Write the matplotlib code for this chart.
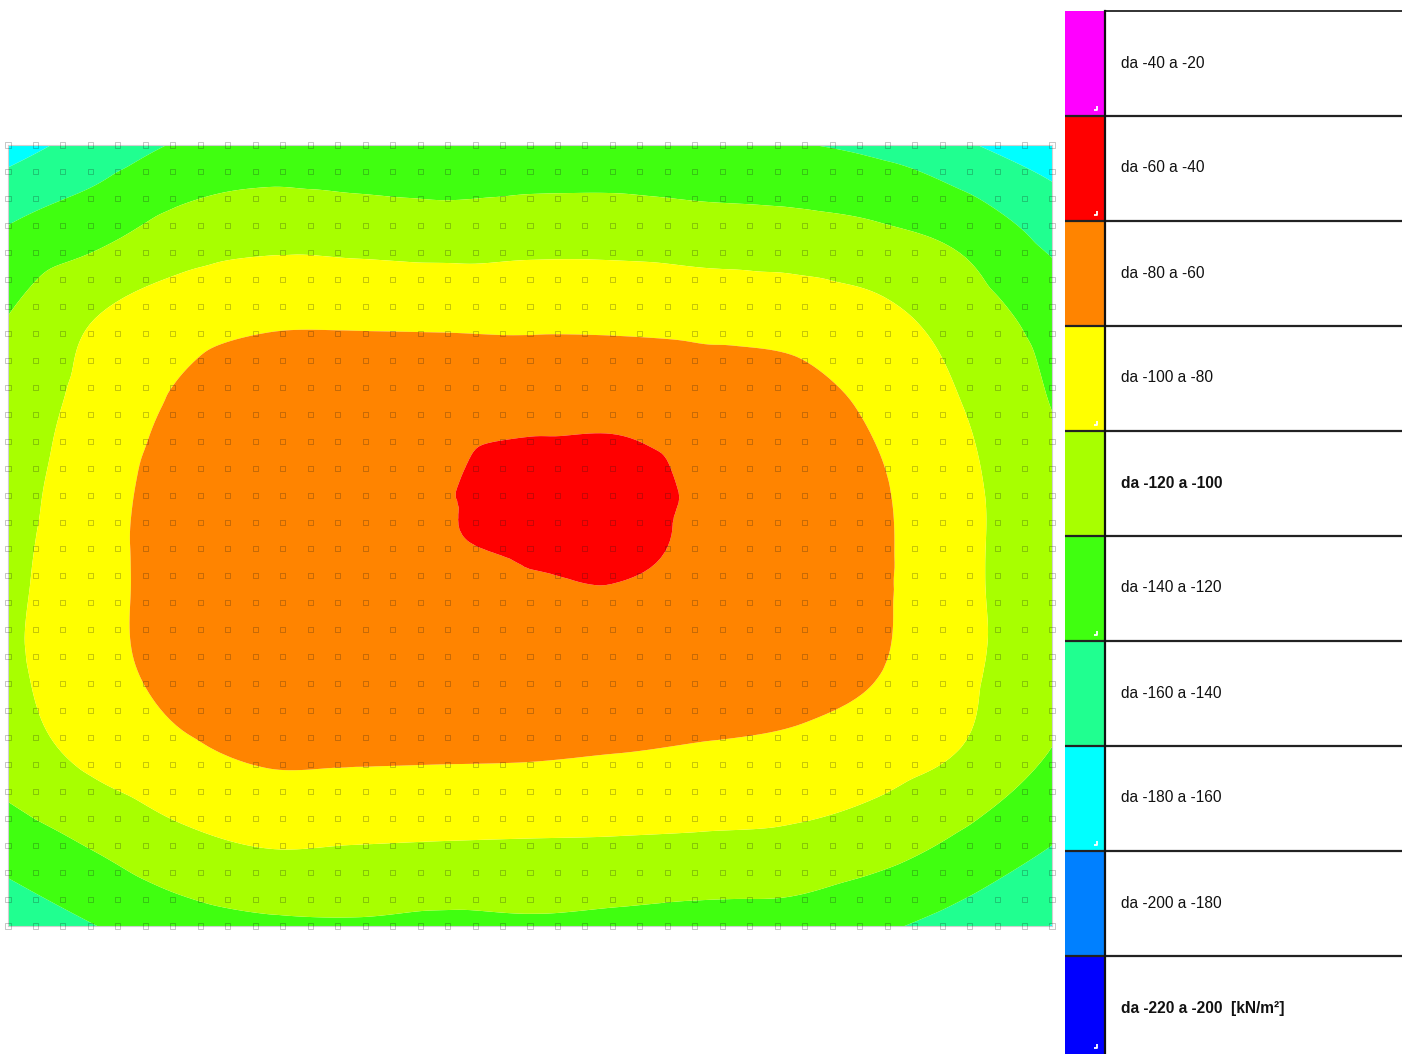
import numpy as np
import matplotlib
matplotlib.use("Agg")
import matplotlib.pyplot as plt
import matplotlib.tri as mtri
from matplotlib.patches import Rectangle

plt.rcParams['font.family'] = ['Liberation Sans', 'DejaVu Sans']

# Contact pressure bands [kN/m²] and their fill colours (low -> high)
levels = [-220, -200, -180, -160, -140, -120, -100, -80, -60, -40, -20]
band_colors = ['#0000FF', '#0080FF', '#00FFFF', '#20FF90', '#40FF10',
               '#A8FF00', '#FFFF00', '#FF8400', '#FF0000', '#FF00FF']
bold_bands = [-120, -220]          # lower bound of the highlighted legend rows
marked_bands = [-40, -60, -100, -140, -180, -220]
unit_label = "[kN/m²]"

# Sampling stations on the slab (m); y is measured downward from the top edge
x_st = [0, 1, 2, 3, 4, 5, 6, 7, 8, 9, 10, 11, 12]
y_st = [0, 1, 2, 3, 4, 5, 6, 7, 8, 9]

# Soil pressure at the stations [kN/m²], one list per row from the top edge
p_row0 = [-168, -152.3, -138, -132.3, -135, -138, -135.6, -135, -137.7, -139, -144.5, -158, -170]
p_row1 = [-138, -126.2, -112, -107, -108.3, -110, -108.3, -108.3, -110.8, -112.7, -117.2, -126, -146.5]
p_row2 = [-119.6, -100, -88.4, -83, -82.8, -83.3, -84, -84.4, -86, -88, -94.6, -109.5, -128]
p_row3 = [-112, -93, -77, -68, -67, -67, -65.5, -64.5, -68.5, -71, -84, -100.5, -120.5]
p_row4 = [-108, -88.2, -71.7, -64.4, -61.5, -60.7, -53.8, -54.85, -62, -66.3, -77.7, -95.9, -114]
p_row5 = [-104.8, -86.7, -72.1, -65.6, -62.6, -61, -60.7, -59.8, -62, -66.5, -77.1, -95.9, -113]
p_row6 = [-103.8, -86.9, -73.5, -68, -65.9, -65.5, -65.5, -66, -67, -69.5, -79, -96, -114]
p_row7 = [-109.7, -94.5, -83.5, -77, -77.1, -77.5, -78, -79.8, -82.2, -85, -90.7, -101.5, -120.8]
p_row8 = [-129.7, -116.7, -104, -97.4, -98.5, -99.5, -100.2, -100.8, -102, -103.7, -110.5, -123, -138.5]
p_row9 = [-153, -140.3, -129, -123.5, -122.4, -124.5, -123.3, -125.4, -127.8, -128.7, -137, -148, -160.5]

# FE mesh subdivisions (node symbols drawn on the slab)
mesh_nx, mesh_ny = 39, 30

W, H = 1402, 1054
fig = plt.figure(figsize=(W / 100, H / 100), dpi=100)
fig.patch.set_facecolor('white')

# ---- slab contour plot ----
ax = fig.add_axes([8 / W, (H - 926) / H, 1044 / W, 781 / H])
P = np.array([p_row0, p_row1, p_row2, p_row3, p_row4,
              p_row5, p_row6, p_row7, p_row8, p_row9], dtype=float)
X, Y = np.meshgrid(np.array(x_st, float), np.array(y_st, float))
tri = mtri.Triangulation(X.ravel(), Y.ravel())
interp = mtri.CubicTriInterpolator(tri, P.ravel(), kind='geom')
refiner = mtri.UniformTriRefiner(tri)
tri_f, p_f = refiner.refine_field(P.ravel(), triinterpolator=interp, subdiv=4)
p_f = np.clip(p_f, levels[0] + 0.01, levels[-1] - 0.01)
ax.tricontourf(tri_f, p_f, levels=levels, colors=band_colors, antialiased=True)

mx = np.linspace(x_st[0], x_st[-1], mesh_nx)
my = np.linspace(y_st[0], y_st[-1], mesh_ny)
MX, MY = np.meshgrid(mx, my)
ax.scatter(MX.ravel(), MY.ravel(), s=13, marker='s', facecolors='none',
           edgecolors=(0.1, 0.1, 0.1, 0.25), linewidths=0.7, zorder=3, clip_on=False)

ax.set_xlim(x_st[0], x_st[-1])
ax.set_ylim(y_st[-1], y_st[0])
ax.set_xticks([])
ax.set_yticks([])
for s in ax.spines.values():
    s.set_color('#d0d0d0')
    s.set_linewidth(0.8)

# ---- legend table ----
lx0 = 1065
lax = fig.add_axes([lx0 / W, 0, (W - lx0) / W, 1])
lax.set_xlim(0, W - lx0)
lax.set_ylim(H, 0)
lax.axis('off')
row_h = 105.0
top0 = 10.5
sw = 40
n_bands = len(band_colors)
for k in range(n_bands):
    b = n_bands - 1 - k
    lo, hi = levels[b], levels[b + 1]
    y0 = top0 + k * row_h
    lax.add_patch(Rectangle((0, y0), sw, row_h, facecolor=band_colors[b],
                            edgecolor='none', zorder=1))
    txt = f"da {lo} a {hi}"
    bold = lo in bold_bands
    if lo == levels[0]:
        txt += "  " + unit_label
    lax.text(56, y0 + row_h / 2, txt, fontsize=11.2, va='center', ha='left',
             fontweight='bold' if bold else 'normal', color='#111111', zorder=3)
    if k == 0:
        lax.plot([sw, W - lx0], [y0, y0], color='#222222', lw=1.3, zorder=2)
    else:
        lax.plot([0, W - lx0], [y0, y0], color='#222222', lw=1.6, zorder=2)
    if lo in marked_bands:
        yb = min(y0 + row_h, H) - 6
        lax.plot([28.5, 32, 32], [yb, yb, yb - 4], color='white', lw=1.3,
                 solid_capstyle='butt', zorder=2)
lax.plot([sw, sw], [top0, H], color='#111111', lw=1.6, zorder=2)

fig.savefig('out.png', dpi=100, facecolor='white')
